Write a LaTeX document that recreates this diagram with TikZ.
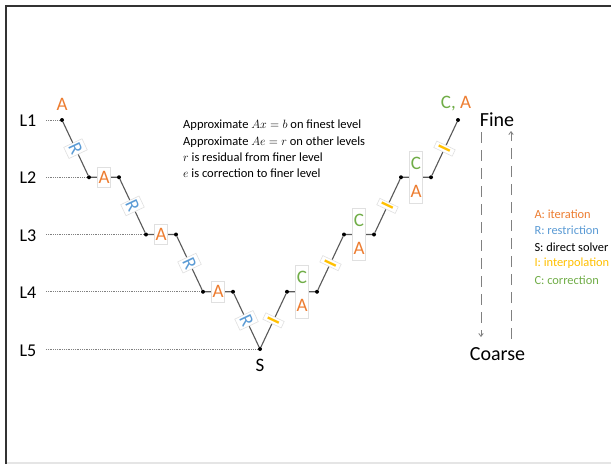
\documentclass[tikz,border=0pt]{standalone}
\usepackage{fontspec}
\setmainfont{Carlito}
\usetikzlibrary{arrows.meta,calc}
\definecolor{cA}{HTML}{ED7D31}
\definecolor{cR}{HTML}{5B9BD5}
\definecolor{cI}{HTML}{FFC000}
\definecolor{cC}{HTML}{70AD47}
\definecolor{boxgray}{HTML}{E0E0E0}
\definecolor{pathgray}{HTML}{595959}
\begin{document}
\begin{tikzpicture}[x=1pt,y=-1pt,
  dot/.style={circle,fill=black,inner sep=0pt,minimum size=4pt},
  lvl/.style={font=\fontsize{18}{20}\selectfont},
  levelline/.style={gray,densely dotted,line width=0.8pt},
  vpath/.style={pathgray,line width=1.1pt},
  lbox/.style={draw=boxgray,fill=white,inner xsep=1pt,inner ysep=4pt,line width=0.6pt,font=\fontsize{19}{21}\selectfont},
  cabox/.style={draw=boxgray,fill=white,inner xsep=1pt,inner ysep=6pt,line width=0.6pt,align=center,font=\fontsize{19}{28}\selectfont},
  big/.style={font=\fontsize{19}{21}\selectfont},
  note/.style={font=\fontsize{12.5}{16.3}\selectfont,align=left,anchor=north west,inner sep=0pt},
  legend/.style={font=\fontsize{12.4}{14}\selectfont,anchor=west},
  dasharrow/.style={gray,line width=0.9pt,dash pattern=on 11pt off 7pt,-{Straight Barb[length=3pt,width=4.5pt,line width=0.8pt]}}
]
\useasboundingbox (0,0) rectangle (611,464);
\fill[white] (0,0) rectangle (611,464);
\fill[black!10] (7,462) rectangle (611,464);
\draw[line width=2pt,black!80] (6,464) -- (6,6) -- (611,6);

% level labels
\node[lvl] (L1) at (28,121) {L1};
\node[lvl] (L2) at (28,178) {L2};
\node[lvl] (L3) at (28,235.5) {L3};
\node[lvl] (L4) at (28,293) {L4};
\node[lvl] (L5) at (28,350.5) {L5};

% dots
\node[dot] (d1) at (62,120) {};
\node[dot] (d2) at (89,177.25) {};
\node[dot] (d3) at (119,177.25) {};
\node[dot] (d4) at (146,234.5) {};
\node[dot] (d5) at (176,234.5) {};
\node[dot] (d6) at (203,291.75) {};
\node[dot] (d7) at (233,291.75) {};
\node[dot] (d8) at (260,349) {};
\node[dot] (d9) at (287,291.75) {};
\node[dot] (d10) at (317,291.75) {};
\node[dot] (d11) at (344,234.5) {};
\node[dot] (d12) at (374,234.5) {};
\node[dot] (d13) at (401,177.25) {};
\node[dot] (d14) at (431,177.25) {};
\node[dot] (d15) at (458,120) {};

% level lines
\coordinate (s1) at (46,120);
\coordinate (s2) at (46,177.25);
\coordinate (s3) at (46,234.5);
\coordinate (s4) at (46,291.75);
\coordinate (s5) at (46,349);
\draw[levelline] (s1) -- (d1);
\draw[levelline] (s2) -- (d2);
\draw[levelline] (s3) -- (d4);
\draw[levelline] (s4) -- (d6);
\draw[levelline] (s5) -- (d8);

% V path
\draw[vpath] (d1) -- (d2) -- (d3) -- (d4) -- (d5) -- (d6) -- (d7) -- (d8)
  -- (d9) -- (d10) -- (d11) -- (d12) -- (d13) -- (d14) -- (d15);

% labels on the path
\node[big,text=cA] (a1) at (62,104) {A};
\node[lbox,text=cR,rotate=-64.75] (r1) at ($(d1)!0.5!(d2)$) {R};
\node[lbox,text=cA] (a2) at ($(d2)!0.5!(d3)$) {A};
\node[lbox,text=cR,rotate=-64.75] (r2) at ($(d3)!0.5!(d4)$) {R};
\node[lbox,text=cA] (a3) at ($(d4)!0.5!(d5)$) {A};
\node[lbox,text=cR,rotate=-64.75] (r3) at ($(d5)!0.5!(d6)$) {R};
\node[lbox,text=cA] (a4) at ($(d6)!0.5!(d7)$) {A};
\node[lbox,text=cR,rotate=-64.75] (r4) at ($(d7)!0.5!(d8)$) {R};
\node[big] (S) at (260,365) {S};
\node[lbox,text=cI,rotate=64.75,font=\fontsize{19}{21}\selectfont\bfseries] (i1) at ($(d8)!0.5!(d9)$) {I};
\node[cabox] (ca4) at ($(d9)!0.5!(d10)$) {\textcolor{cC}{C}\\\textcolor{cA}{A}};
\node[lbox,text=cI,rotate=64.75,font=\fontsize{19}{21}\selectfont\bfseries] (i2) at ($(d10)!0.5!(d11)$) {I};
\node[cabox] (ca3) at ($(d11)!0.5!(d12)$) {\textcolor{cC}{C}\\\textcolor{cA}{A}};
\node[lbox,text=cI,rotate=64.75,font=\fontsize{19}{21}\selectfont\bfseries] (i3) at ($(d12)!0.5!(d13)$) {I};
\node[cabox] (ca2) at ($(d13)!0.5!(d14)$) {\textcolor{cC}{C}\\\textcolor{cA}{A}};
\node[lbox,text=cI,rotate=64.75,font=\fontsize{19}{21}\selectfont\bfseries] (i4) at ($(d14)!0.5!(d15)$) {I};
\node[big] (ca1) at (456,104) {\textcolor{cC}{C,} \textcolor{cA}{A}};

% explanatory text
\node[note] (txt) at (183,120) {Approximate $Ax = b$ on finest level\\
Approximate $Ae = r$ on other levels\\
$r$ is residual from finer level\\
$e$ is correction to finer level};

% fine / coarse
\node[font=\fontsize{20}{22}\selectfont] (fine) at (497,120) {Fine};
\node[font=\fontsize{20}{22}\selectfont] (coarse) at (497.5,354) {Coarse};
\coordinate (fd1) at (481,132);
\coordinate (fd2) at (481,337);
\coordinate (cu1) at (511,339);
\coordinate (cu2) at (511,131);
\draw[dasharrow] (fd1) -- (fd2);
\draw[dasharrow] (cu1) -- (cu2);

% legend
\node[legend,text=cA] (la) at (531,214) {A: iteration};
\node[legend,text=cR] (lr) at (531,230.5) {R: restriction};
\node[legend,text=black] (ls) at (531,247) {S: direct solver};
\node[legend,text=cI] (li) at (531,263.5) {I: interpolation};
\node[legend,text=cC] (lc) at (531,280) {C: correction};
\end{tikzpicture}
\end{document}
